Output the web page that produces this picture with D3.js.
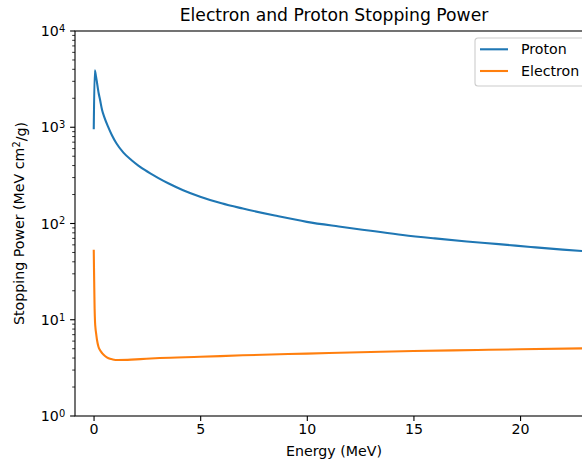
<!DOCTYPE html>
<html>
<head>
<meta charset="utf-8">
<script src="https://cdn.jsdelivr.net/npm/d3@7"></script>
<style>
  body { margin: 0; background: #fff; }
  text { font-family: "DejaVu Sans", sans-serif; fill: #000; }
</style>
</head>
<body>
<div class="chart"></div>
<script>

// values
const protonEnergy = [0.01, 0.056, 0.117, 0.24, 0.3, 0.4, 0.5, 0.68, 0.85, 1.07, 1.4, 1.77, 2.1, 2.4, 3, 3.5, 4.2, 5, 6, 7, 8.5, 10, 11.5, 13, 14.5, 16, 17.5, 19, 20.5, 22, 23.4]
const protonPower = [980, 3900, 3350, 2254, 1950, 1511, 1280, 1013, 835, 681, 545, 457, 400, 360, 300, 262, 222, 190, 162, 143, 121, 104, 93, 84, 76, 70, 65, 61, 57, 53.5, 51]

const electronEnergy = [0.01, 0.02, 0.03, 0.04, 0.05, 0.06, 0.07, 0.09, 0.12, 0.16, 0.23, 0.3, 0.41, 0.55, 0.7, 0.9, 1.15, 1.6, 2.2, 3.1, 5, 7, 10, 13, 15, 18, 20, 23.4]
const electronPower = [52, 35, 25, 17.5, 13, 10.8, 9.4, 8.2, 7.2, 6.2, 5.25, 4.85, 4.48, 4.18, 3.98, 3.87, 3.82, 3.83, 3.9, 4.0, 4.12, 4.27, 4.45, 4.62, 4.73, 4.85, 4.93, 5.06]

const xTicks = [0, 5, 10, 15, 20]
const yExponents = [0, 1, 2, 3, 4]
const seriesNames = ["Proton", "Electron"]
const colors = ["#1f77b4", "#ff7f0e"]

let outerWidth = 582
let outerHeight = 462
let margin = {top: 31, bottom: 46, left: 75, right: -11}
let w = outerWidth - margin.left - margin.right
let h = outerHeight - margin.top - margin.bottom

const root = d3.select(".chart")
    .append("svg")
    .attr("width", outerWidth)
    .attr("height", outerHeight)
    .style("display", "block")

const svg = root.append("g")
    .attr("transform", `translate(${margin.left}, ${margin.top})`)

const xScale = d3.scaleLinear()
    .domain([-0.87, 23.42])
    .range([0, w])

const yScale = d3.scaleLog()
    .domain([1, 10000])
    .range([h, 0])

svg.append("clipPath")
    .attr("id", "clip")
    .append("rect")
    .attr("width", w)
    .attr("height", h)

const line = d3.line()
    .x(d => xScale(d[0]))
    .y(d => yScale(d[1]))
    .curve(d3.curveMonotoneX)

const series = [
    d3.zip(protonEnergy, protonPower),
    d3.zip(electronEnergy, electronPower)
]

svg.append("g")
    .attr("clip-path", "url(#clip)")
    .selectAll("path")
    .data(series)
    .enter()
    .append("path")
    .attr("d", line)
    .attr("fill", "none")
    .attr("stroke", (d, i) => colors[i])
    .attr("stroke-width", 2.1)
    .attr("stroke-linejoin", "round")
    .attr("stroke-linecap", "square")

// x axis
const xAxis = d3.axisBottom(xScale)
    .tickValues(xTicks)
    .tickSize(4.9)
    .tickPadding(3.5)

const gx = svg.append("g")
    .attr("transform", `translate(0, ${h})`)
    .call(xAxis)
gx.select(".domain").remove()
gx.selectAll("line").attr("stroke", "#000").attr("stroke-width", 1.1)
gx.selectAll("text").style("font-size", "14.2px").attr("fill", "#000")

// y axis, major + minor log ticks
const minor = []
yExponents.slice(0, -1).forEach(e => {
    for (let k = 2; k < 10; k++) minor.push(k * Math.pow(10, e))
})

svg.append("g")
    .selectAll("line")
    .data(minor)
    .enter()
    .append("line")
    .attr("x1", -2.8)
    .attr("x2", 0)
    .attr("y1", d => yScale(d))
    .attr("y2", d => yScale(d))
    .attr("stroke", "#000")
    .attr("stroke-width", 0.8)

const yMajor = svg.append("g")
    .selectAll("g")
    .data(yExponents)
    .enter()
    .append("g")
    .attr("transform", d => `translate(0, ${yScale(Math.pow(10, d))})`)

yMajor.append("line")
    .attr("x1", -4.9)
    .attr("x2", 0)
    .attr("stroke", "#000")
    .attr("stroke-width", 1.1)

const yLabel = yMajor.append("text")
    .attr("x", -9.8)
    .attr("dy", "0.36em")
    .attr("text-anchor", "end")
    .style("font-size", "14.2px")
yLabel.append("tspan").text("10")
yLabel.append("tspan")
    .attr("dy", "-0.42em")
    .style("font-size", "9.9px")
    .text(d => d)

// spines
svg.append("rect")
    .attr("width", w)
    .attr("height", h)
    .attr("fill", "none")
    .attr("stroke", "#000")
    .attr("stroke-width", 1.1)

// title and labels
root.append("text")
    .attr("x", margin.left + w / 2)
    .attr("y", 21)
    .attr("text-anchor", "middle")
    .style("font-size", "17.2px")
    .text("Electron and Proton Stopping Power")

root.append("text")
    .attr("x", margin.left + w / 2)
    .attr("y", 456)
    .attr("text-anchor", "middle")
    .style("font-size", "14.2px")
    .text("Energy (MeV)")

const ylab = root.append("text")
    .attr("transform", `translate(24, ${margin.top + h / 2}) rotate(-90)`)
    .attr("text-anchor", "middle")
    .style("font-size", "14.2px")
ylab.append("tspan").text("Stopping Power (MeV cm")
ylab.append("tspan").attr("dy", "-0.42em").style("font-size", "9.9px").text("2")
ylab.append("tspan").attr("dy", "0.42em").text("/g)")

// legend
const legend = root.append("g")
    .attr("transform", "translate(475, 38)")

legend.append("rect")
    .attr("width", 111)
    .attr("height", 48)
    .attr("rx", 3)
    .attr("fill", "#fff")
    .attr("fill-opacity", 0.8)
    .attr("stroke", "#cccccc")
    .attr("stroke-width", 1.1)

const items = legend.selectAll(".item")
    .data(seriesNames)
    .enter()
    .append("g")
    .attr("class", "item")
    .attr("transform", (d, i) => `translate(0, ${11.3 + i * 21.7})`)

items.append("line")
    .attr("x1", 5)
    .attr("x2", 33)
    .attr("stroke", (d, i) => colors[i])
    .attr("stroke-width", 2.1)

items.append("text")
    .attr("x", 46)
    .attr("dy", "0.36em")
    .style("font-size", "14.2px")
    .text(d => d)

</script>
</body>
</html>
